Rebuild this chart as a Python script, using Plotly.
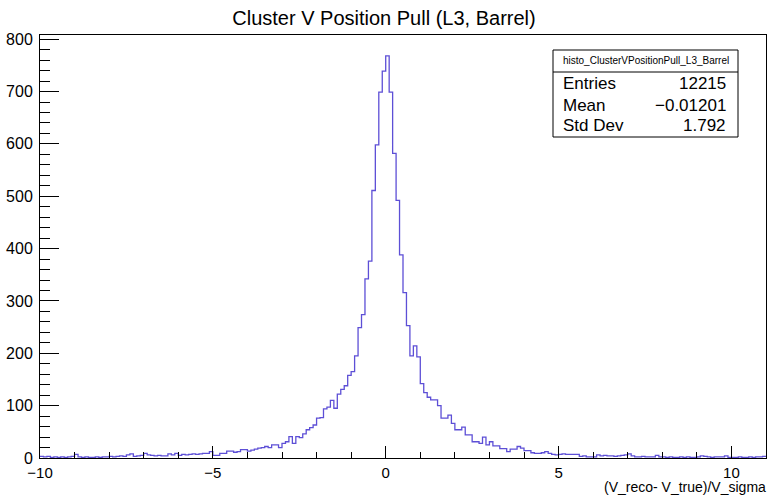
import numpy as np
import plotly.graph_objects as go

# ---- data ----
bin_low = -10.0
bin_width = 0.1
counts = [
    # -10.0 .. -6.1
    3, 2, 3, 1, 2, 1, 2, 1, 2, 3,
    7, 2, 1, 2, 1, 1, 2, 1, 2, 2,
    3, 2, 3, 4, 3, 6, 8, 3, 4, 5,
    9, 6, 5, 4, 5, 4, 4, 8, 6, 9,
    # -6.0 .. -5.1
    5, 7, 6, 7, 8, 7, 8, 9, 9, 12,
    # -5.0 .. -4.1
    5, 5, 9, 9, 13, 13, 11, 12, 16, 16,
    # -4.0 .. -3.1
    13, 15, 17, 19, 20, 22, 20, 25, 25, 20,
    # -3.0 .. -2.1
    28, 31, 41, 28, 41, 39, 46, 54, 58, 63,
    # -2.0 .. -1.1
    76, 77, 94, 97, 110, 95, 122, 131, 138, 158,
    # -1.0 .. -0.1
    165, 195, 249, 274, 342, 376, 511, 598, 699, 739,
    # 0.0 .. 0.9
    768, 699, 582, 492, 388, 316, 253, 195, 214, 193,
    # 1.0 .. 1.9
    142, 125, 116, 111, 111, 100, 76, 76, 82, 66,
    # 2.0 .. 2.9
    54, 54, 59, 44, 44, 31, 31, 28, 40, 25,
    # 3.0 .. 3.9
    31, 23, 23, 18, 18, 12, 17, 17, 22, 19,
    # 4.0 .. 4.9
    14, 14, 10, 9, 9, 10, 12, 9, 7, 6,
    # 5.0 .. 5.9
    7, 8, 7, 7, 7, 7, 3, 4, 2, 2,
    # 6.0 .. 6.9
    2, 6, 4, 5, 4, 4, 3, 4, 5, 6,
    # 7.0 .. 7.9
    8, 4, 2, 2, 3, 2, 2, 2, 5, 2,
    # 8.0 .. 8.9
    2, 1, 2, 1, 1, 2, 1, 2, 1, 1,
    # 9.0 .. 9.9
    2, 4, 3, 2, 1, 2, 2, 2, 4, 1,
    # 10.0 .. 10.9
    1, 1, 2, 1, 1, 2, 1, 2, 2, 3,
]
hist_name = "histo_ClusterVPositionPull_L3_Barrel"
stat_labels = ["Entries", "Mean", "Std Dev"]
stat_values = ["12215", "\u22120.01201", "1.792"]
title_text = "Cluster V Position Pull (L3, Barrel)"
x_title = "(V_reco- V_true)/V_sigma"

edges = bin_low + bin_width * np.arange(len(counts) + 1)
xs = list(edges)
ys = list(counts) + [counts[-1]]

W, H = 768, 496
ML, MR, MT, MB = 40, 2, 35, 38

fig = go.Figure()
fig.add_trace(go.Scatter(
    x=xs, y=ys, mode="lines", line_shape="hv",
    line=dict(color="#5d4fd6", width=1.3),
    hoverinfo="skip", showlegend=False,
))

font_family = "Liberation Sans, Arial, Helvetica, sans-serif"

fig.update_layout(
    width=W, height=H,
    margin=dict(l=ML, r=MR, t=MT, b=MB),
    paper_bgcolor="white", plot_bgcolor="white",
    font=dict(family=font_family, color="black"),
    title=dict(text=title_text, x=0.5, xanchor="center",
               y=1 - 18 / H, yanchor="middle", yref="container",
               font=dict(size=20, family=font_family, color="black")),
    xaxis=dict(range=[-10, 11], tickmode="linear", tick0=-10, dtick=5,
               ticks="inside", ticklen=12, tickwidth=1, tickcolor="black",
               showline=True, linecolor="black", linewidth=1, mirror=True,
               showgrid=False, zeroline=False,
               tickfont=dict(size=15), ticklabelstandoff=1,
               minor=dict(dtick=1, ticks="inside", ticklen=6, tickcolor="black", tickwidth=1, showgrid=False)),
    yaxis=dict(range=[0, 808], tickmode="linear", tick0=0, dtick=100,
               ticks="inside", ticklen=19, tickwidth=1, tickcolor="black",
               showline=True, linecolor="black", linewidth=1, mirror=True,
               showgrid=False, zeroline=False,
               tickfont=dict(size=16), ticklabelstandoff=3,
               minor=dict(dtick=20, ticks="inside", ticklen=10, tickcolor="black", tickwidth=1, showgrid=False)),
)

# helpers for pixel -> paper coordinates (decoration only)
PW, PH = W - ML - MR, H - MT - MB
def px(xp):
    return (xp - ML) / PW
def py(yp):
    return (H - MB - yp) / PH

# axis title, right-aligned like ROOT
fig.add_annotation(text=x_title, xref="paper", yref="paper", x=px(767), y=py(496),
                   xanchor="right", yanchor="bottom", showarrow=False, borderpad=0,
                   font=dict(size=14, family=font_family, color="black"))

# stats box
bx0, bx1, by0, by1, bsep = 553, 738, 50, 137, 72
fig.add_shape(type="rect", xref="paper", yref="paper",
              x0=px(bx0), x1=px(bx1), y0=py(by1), y1=py(by0),
              line=dict(color="black", width=1), fillcolor="white", layer="above")
fig.add_shape(type="line", xref="paper", yref="paper",
              x0=px(bx0), x1=px(bx1), y0=py(bsep), y1=py(bsep),
              line=dict(color="black", width=1), layer="above")
fig.add_annotation(text=hist_name, xref="paper", yref="paper",
                   x=px((bx0 + bx1) / 2), y=py(61), xanchor="center", yanchor="middle",
                   showarrow=False, font=dict(size=10, family=font_family, color="black"))
row_y = [83, 105, 126]
for lab, val, ry in zip(stat_labels, stat_values, row_y):
    fig.add_annotation(text=lab, xref="paper", yref="paper", x=px(561), y=py(ry),
                       xanchor="left", yanchor="middle", showarrow=False,
                       font=dict(size=17, family=font_family, color="black"))
    fig.add_annotation(text=val, xref="paper", yref="paper", x=px(728), y=py(ry),
                       xanchor="right", yanchor="middle", showarrow=False,
                       font=dict(size=17, family=font_family, color="black"))

fig.write_html("out.html")
